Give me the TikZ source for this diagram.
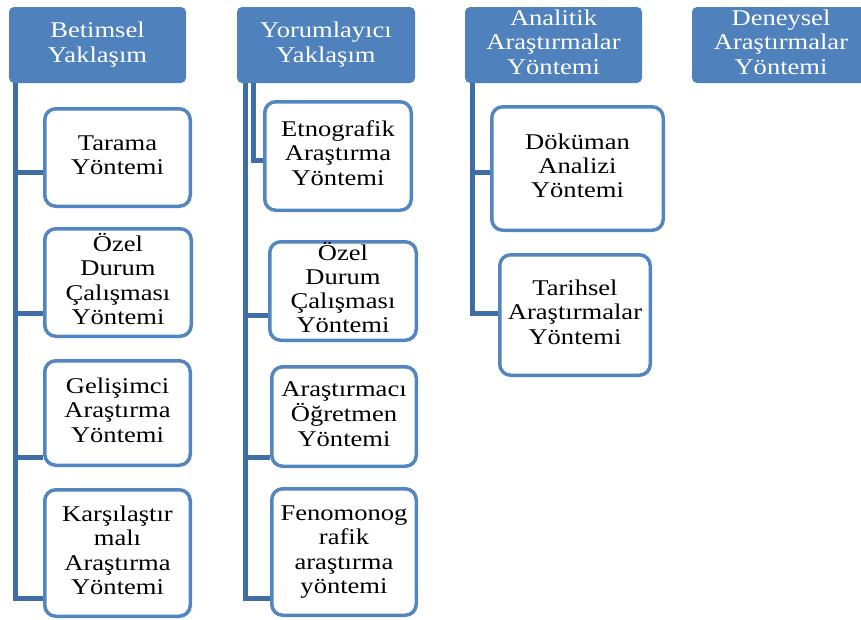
\documentclass[tikz,border=0pt]{standalone}
\usepackage{fontspec}
\usepackage{graphicx}
\setmainfont{Liberation Serif}
\usetikzlibrary{backgrounds}
\definecolor{hdr}{HTML}{4F81BD}
\definecolor{lin}{HTML}{3F6DA5}
\definecolor{bdr}{HTML}{5386C0}
\newcommand{\dfont}{\fontsize{22.5}{24.3}\selectfont}
\newcommand{\tx}[1]{\scalebox{1.18}[1]{\begin{tabular}{@{}c@{}}#1\end{tabular}}}
\begin{document}
\begin{tikzpicture}[x=1pt,y=-1pt,
  hdrbox/.style={fill=hdr, rounded corners=5pt, text=white, align=center, inner sep=0pt, font=\dfont},
  kidbox/.style={draw=bdr, line width=3.5pt, fill=white, rounded corners=11pt, align=center, inner sep=0pt, font=\dfont},
  conn/.style={draw=lin, line width=5pt}]
\useasboundingbox (0,0) rectangle (861,619);
% headers
\node[hdrbox, minimum width=177pt, minimum height=76pt] (h1) at (97.5,45) {\tx{Betimsel\\Yaklaşım}};
\node[hdrbox, minimum width=178pt, minimum height=76pt] (h2) at (326,45) {\tx{Yorumlayıcı\\Yaklaşım}};
\node[hdrbox, minimum width=177pt, minimum height=76pt] (h3) at (553.5,45) {\tx{Analitik\\Araştırmalar\\Yöntemi}};
\node[hdrbox, minimum width=178pt, minimum height=76pt] (h4) at (781,45) {\tx{Deneysel\\Araştırmalar\\Yöntemi}};
% column 1
\node[kidbox, minimum width=145.5pt, minimum height=97.5pt] (k11) at (117.5,157.5) {\tx{Tarama\\Yöntemi}};
\node[kidbox, minimum width=146.5pt, minimum height=107.5pt] (k12) at (118,282.5) {\tx{Özel\\Durum\\Çalışması\\Yöntemi}};
\node[kidbox, minimum width=145.5pt, minimum height=104.5pt] (k13) at (117.5,413) {\tx{Gelişimci\\Araştırma\\Yöntemi}};
\node[kidbox, minimum width=145.5pt, minimum height=126.5pt] (k14) at (117.5,553) {\tx{Karşılaştır\\malı\\Araştırma\\Yöntemi}};
% column 2
\node[kidbox, minimum width=146.5pt, minimum height=108.5pt] (k21) at (338,156) {\tx{Etnografik\\Araştırma\\Yöntemi}};
\node[kidbox, minimum width=146.5pt, minimum height=98.5pt] (k22) at (343,291) {\tx{Özel\\Durum\\Çalışması\\Yöntemi}};
\node[kidbox, minimum width=144.5pt, minimum height=99.5pt] (k23) at (344,416.5) {\tx{Araştırmacı\\Öğretmen\\Yöntemi}};
\node[kidbox, minimum width=144.5pt, minimum height=126.5pt] (k24) at (344,552) {\tx{Fenomonog\\rafik\\araştırma\\yöntemi}};
% column 3
\node[kidbox, minimum width=171.5pt, minimum height=123.5pt] (k31) at (577.5,168.5) {\tx{Döküman\\Analizi\\Yöntemi}};
\node[kidbox, minimum width=150.5pt, minimum height=120.5pt] (k32) at (575,315) {\tx{Tarihsel\\Araştırmalar\\Yöntemi}};
% connector coordinates
\coordinate (v1) at (15,82);
\coordinate (b11) at (15,172);
\coordinate (b12) at (15,313);
\coordinate (b13) at (15,457);
\coordinate (b14) at (15,598);
\coordinate (v2) at (245,82);
\coordinate (b22) at (245,315);
\coordinate (b23) at (245,457);
\coordinate (b24) at (245,598);
\coordinate (v2s) at (253.5,82);
\coordinate (b21) at (253.5,160);
\coordinate (v3) at (472,82);
\coordinate (b31) at (472,172);
\coordinate (b32) at (472,313);
\begin{pgfonlayer}{background}
\draw[conn] (v1) -- (b14) -- (b14 -| k14.west);
\draw[conn] (b11) -- (b11 -| k11.west);
\draw[conn] (b12) -- (b12 -| k12.west);
\draw[conn] (b13) -- (b13 -| k13.west);
\draw[conn] (v2) -- (b24) -- (b24 -| k24.west);
\draw[conn] (b22) -- (b22 -| k22.west);
\draw[conn] (b23) -- (b23 -| k23.west);
\draw[conn] (v2s) -- (b21) -- (b21 -| k21.west);
\draw[conn] (v3) -- (b32) -- (b32 -| k32.west);
\draw[conn] (b31) -- (b31 -| k31.west);
\end{pgfonlayer}
\end{tikzpicture}
\end{document}
